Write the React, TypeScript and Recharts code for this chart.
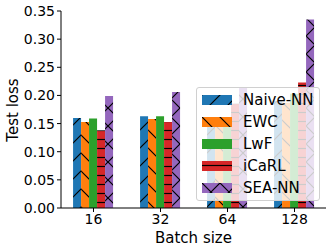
import { BarChart, Bar, XAxis, YAxis, Legend, Label } from 'recharts'

// Test loss per batch size
const batchSizes = ['16', '32', '64', '128']
const naiveNN = [0.16, 0.163, 0.15, 0.19]
const ewc = [0.153, 0.158, 0.149, 0.187]
const lwf = [0.159, 0.163, 0.151, 0.203]
const icarl = [0.138, 0.153, 0.185, 0.223]
const seaNN = [0.199, 0.206, 0.213, 0.335]
const yTicks = [0, 0.05, 0.1, 0.15, 0.2, 0.25, 0.3, 0.35]

const data = batchSizes.map((b, i) => ({
  batch: b,
  naive: naiveNN[i],
  ewc: ewc[i],
  lwf: lwf[i],
  icarl: icarl[i],
  sea: seaNN[i],
}))

const FONT = '"DejaVu Sans", sans-serif'

// matplotlib-style hatches: '/', '\', none, '-', 'x'
const series = [
  { key: 'naive', name: 'Naive-NN', color: '#1f77b4', hatch: 'fwd' },
  { key: 'ewc', name: 'EWC', color: '#ff7f0e', hatch: 'back' },
  { key: 'lwf', name: 'LwF', color: '#2ca02c', hatch: '' },
  { key: 'icarl', name: 'iCaRL', color: '#d62728', hatch: 'horiz' },
  { key: 'sea', name: 'SEA-NN', color: '#9467bd', hatch: 'cross' },
]

function Hatch({ id, color, hatch }: { id: string; color: string; hatch: string }) {
  const s = hatch === 'horiz' ? 9 : 18
  return (
    <pattern id={id} patternUnits="userSpaceOnUse" width={s} height={s}>
      <rect width={s} height={s} fill={color} />
      {(hatch === 'fwd' || hatch === 'cross') && (
        <path d={`M0,${s} L${s},0 M-2,2 L2,-2 M${s - 2},${s + 2} L${s + 2},${s - 2}`} stroke="#000" strokeWidth={1.2} />
      )}
      {(hatch === 'back' || hatch === 'cross') && (
        <path d={`M0,0 L${s},${s} M-2,${s - 2} L2,${s + 2} M${s - 2},-2 L${s + 2},2`} stroke="#000" strokeWidth={1.2} />
      )}
      {hatch === 'horiz' && <path d={`M0,${s / 2} L${s},${s / 2}`} stroke="#000" strokeWidth={1.2} />}
    </pattern>
  )
}

function LegendBox() {
  return (
    <div
      style={{
        width: 124,
        height: 114,
        background: 'rgba(255,255,255,0.8)',
        border: '1px solid #d0d0d0',
        borderRadius: 3,
        boxSizing: 'border-box',
        padding: '1px 0 0 5px',
        fontFamily: FONT,
        fontSize: 15,
        color: '#000',
      }}
    >
      {series.map((s) => (
        <div key={s.key} style={{ display: 'flex', alignItems: 'center', height: 22 }}>
          <svg width={30} height={10} style={{ marginRight: 11, flexShrink: 0 }}>
            <defs>
              <Hatch id={`lg-${s.key}`} color={s.color} hatch={s.hatch} />
            </defs>
            <rect width={30} height={10} fill={`url(#lg-${s.key})`} />
          </svg>
          <span>{s.name}</span>
        </div>
      ))}
    </div>
  )
}

export default function App() {
  return (
    <div style={{ position: 'absolute', left: 0, top: 0, width: 333, height: 251, background: '#fff' }}>
      <BarChart
        width={333}
        height={251}
        data={data}
        margin={{ top: 11, right: 7, bottom: 0, left: 0 }}
        barGap={0}
        barCategoryGap="19.5%"
      >
        <defs>
          {series.map((s) => (
            <Hatch key={s.key} id={`h-${s.key}`} color={s.color} hatch={s.hatch} />
          ))}
        </defs>
        <XAxis
          dataKey="batch"
          height={43}
          padding={{ left: -1, right: -2 }}
          tickLine={{ stroke: '#000' }}
          tickSize={4}
          tickMargin={2}
          axisLine={{ stroke: '#000' }}
          tick={{ fill: '#000', fontSize: 14, fontFamily: FONT }}
        >
          <Label value="Batch size" position="insideBottom" offset={8} style={{ fill: '#000', fontSize: 15, fontFamily: FONT }} />
        </XAxis>
        <XAxis xAxisId="top" dataKey="batch" orientation="top" height={0} tick={false} tickLine={false} axisLine={{ stroke: '#000' }} />
        <YAxis
          width={61}
          domain={[0, 0.35]}
          ticks={yTicks}
          tickFormatter={(v: number) => v.toFixed(2)}
          tickLine={{ stroke: '#000' }}
          tickSize={4}
          tickMargin={2}
          axisLine={{ stroke: '#000' }}
          tick={{ fill: '#000', fontSize: 14, fontFamily: FONT }}
          interval={0}
        >
          <Label
            content={() => (
              <text x={13} y={110} transform="rotate(-90 13 110)" textAnchor="middle" dominantBaseline="central" style={{ fill: '#000', fontSize: 15, fontFamily: FONT }}>
                Test loss
              </text>
            )}
          />
        </YAxis>
        <YAxis yAxisId="right" orientation="right" width={0} domain={[0, 0.35]} tick={false} tickLine={false} axisLine={{ stroke: '#000' }} />
        {series.map((s) => (
          <Bar key={s.key} dataKey={s.key} name={s.name} fill={`url(#h-${s.key})`} isAnimationActive={false} />
        ))}
        <Legend
          layout="horizontal"
          align="center"
          verticalAlign="middle"
          content={() => <LegendBox />}
          wrapperStyle={{ position: 'absolute', left: 196, top: 87, width: 124, height: 114 }}
        />
      </BarChart>
    </div>
  )
}
